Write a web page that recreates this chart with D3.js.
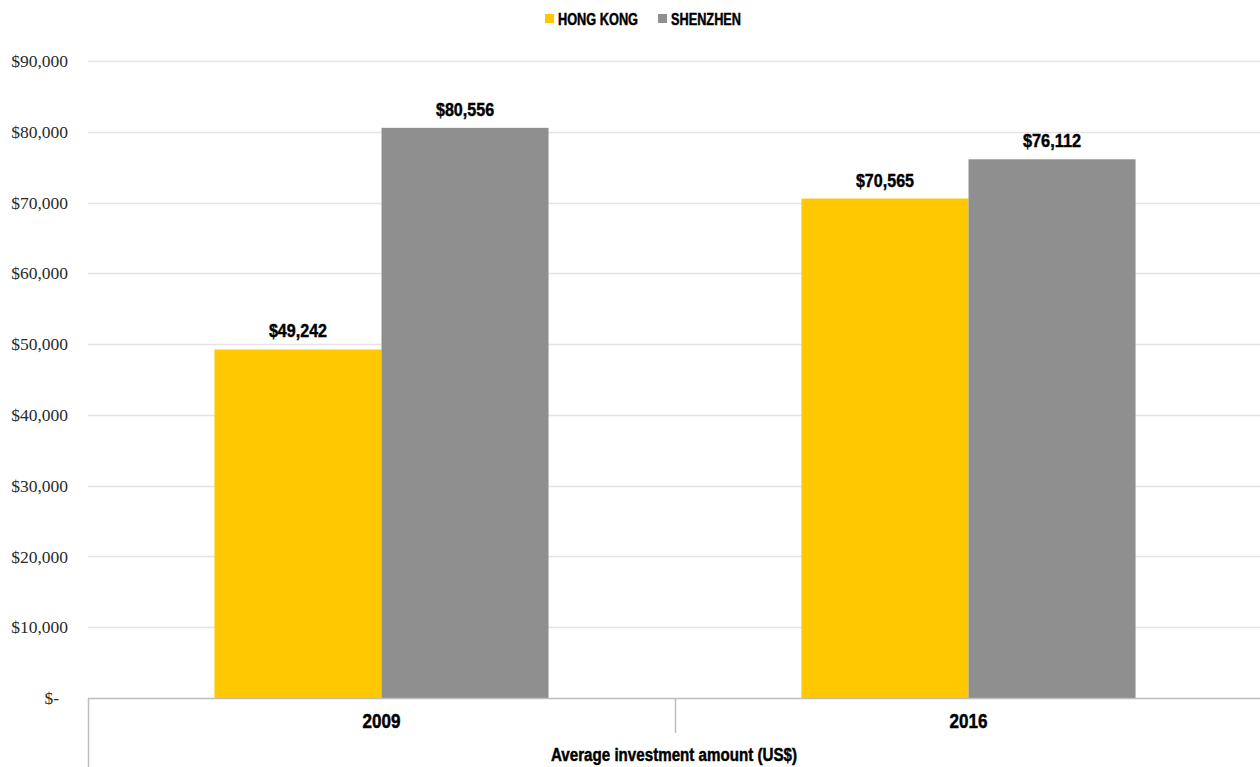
<!DOCTYPE html>
<html><head><meta charset="utf-8">
<script src="https://cdn.jsdelivr.net/npm/d3@7"></script>
<style>
html,body{margin:0;padding:0;background:#fff;}
svg{display:block;}
.cond{font-family:"Liberation Sans",Arial,sans-serif;font-weight:bold;stroke:#000;stroke-width:0.45px;}
</style>
</head><body>
<svg id="chart" width="1260" height="767"></svg>
<script>
const categories = ["2009", "2016"];
const seriesNames = ["HONG KONG", "SHENZHEN"];
const hongKong = [49242, 70565];
const shenzhen = [80556, 76112];
const yTicks = [0, 10000, 20000, 30000, 40000, 50000, 60000, 70000, 80000, 90000];
const axisTitle = "Average investment amount (US$)";

const colors = ["#FFC800", "#8F8F8F"];
const seriesValues = [hongKong, shenzhen];

const svg = d3.select("#chart");
const plotLeft = 88, plotRight = 1262, plotTop = 61, plotBottom = 698;

const y = d3.scaleLinear().domain([0, 90000]).range([plotBottom, plotTop]);
const x0 = d3.scaleBand().domain(categories).range([plotLeft, plotRight]).padding(0);
const x1 = d3.scaleBand().domain(seriesNames).range([0, x0.bandwidth()]).paddingInner(0).paddingOuter(0.757);

// condensed look: squeeze text to a width proportional to its character count
function squeeze(sel, perChar) {
  sel.attr("textLength", function() { return this.textContent.length * perChar; })
     .attr("lengthAdjust", "spacingAndGlyphs");
}

// gridlines
svg.append("g").selectAll("line").data(yTicks.filter(d => d > 0)).join("line")
  .attr("x1", plotLeft).attr("x2", 1260)
  .attr("y1", d => Math.round(y(d)) + 0.5).attr("y2", d => Math.round(y(d)) + 0.5)
  .attr("stroke", "#e4e4e4").attr("stroke-width", 1.5);

// y labels
const fmt = d => d === 0 ? "$-" : "$" + d3.format(",")(d);
svg.append("g").selectAll("text").data(yTicks).join("text")
  .attr("x", d => d === 0 ? 59 : 68)
  .attr("y", d => y(d)).attr("dy", "0.35em")
  .attr("text-anchor", "end")
  .attr("font-family", "'Liberation Serif','DejaVu Serif',serif")
  .attr("font-size", 17.5).attr("fill", "#2a2a2a")
  .text(fmt);

// bars
const groups = svg.append("g").selectAll("g").data(categories).join("g")
  .attr("transform", d => `translate(${x0(d)},0)`);
groups.selectAll("rect").data((c, i) => seriesNames.map((s, j) => ({s, v: seriesValues[j][i], j})))
  .join("rect")
  .attr("x", d => x1(d.s)).attr("width", x1.bandwidth())
  .attr("y", d => y(d.v)).attr("height", d => y(0) - y(d.v))
  .attr("fill", d => colors[d.j]);
groups.selectAll("text").data((c, i) => seriesNames.map((s, j) => ({s, v: seriesValues[j][i], j})))
  .join("text").attr("class", "cond")
  .attr("x", d => x1(d.s) + x1.bandwidth() / 2)
  .attr("y", d => y(d.v) - 12)
  .attr("text-anchor", "middle").attr("font-size", 19).attr("fill", "#000")
  .text(d => "$" + d3.format(",")(d.v))
  .call(squeeze, 8.3);

// x axis lines
const ax = svg.append("g").attr("stroke", "#bdbdbd").attr("stroke-width", 1.5);
ax.append("line").attr("x1", plotLeft).attr("x2", 1260).attr("y1", plotBottom + 0.5).attr("y2", plotBottom + 0.5);
ax.append("line").attr("x1", plotLeft + 0.5).attr("x2", plotLeft + 0.5).attr("y1", plotBottom).attr("y2", 767);
ax.selectAll(".tk").data(categories.slice(1)).join("line")
  .attr("x1", d => x0(d) + 0.5).attr("x2", d => x0(d) + 0.5)
  .attr("y1", plotBottom).attr("y2", 733);

// category labels
svg.append("g").selectAll("text").data(categories).join("text").attr("class", "cond")
  .attr("x", d => x0(d) + x0.bandwidth() / 2).attr("y", 728)
  .attr("text-anchor", "middle").attr("font-size", 20).attr("fill", "#000")
  .text(d => d)
  .call(squeeze, 9.5);

// axis title
svg.append("text").attr("class", "cond")
  .attr("x", 674).attr("y", 761)
  .attr("text-anchor", "middle").attr("font-size", 18).attr("fill", "#000")
  .attr("textLength", 246).attr("lengthAdjust", "spacingAndGlyphs")
  .text(axisTitle);

// legend
const legend = svg.append("g");
const legX = [545, 658];
const legW = [80, 70];
seriesNames.forEach((s, i) => {
  legend.append("rect").attr("x", legX[i]).attr("y", 14).attr("width", 9).attr("height", 9).attr("fill", colors[i]);
  legend.append("text").attr("class", "cond").attr("x", legX[i] + 13).attr("y", 25)
    .attr("font-size", 16).attr("fill", "#000")
    .attr("textLength", legW[i]).attr("lengthAdjust", "spacingAndGlyphs")
    .text(s);
});
</script>
</body></html>
